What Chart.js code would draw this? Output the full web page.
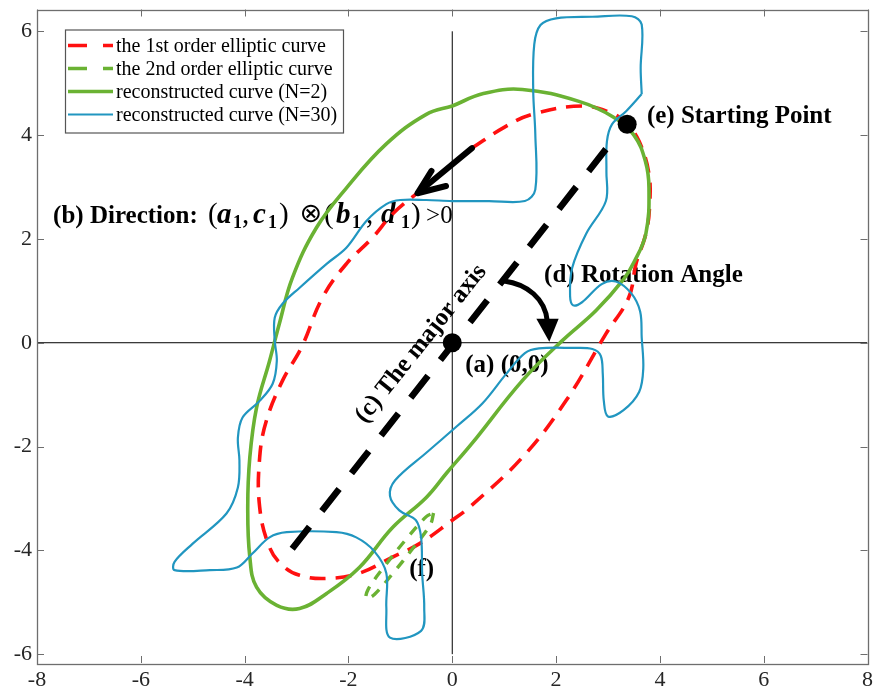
<!DOCTYPE html>
<html><head><meta charset="utf-8">
<script src="https://cdn.jsdelivr.net/npm/chart.js@4"></script>
<style>html,body{margin:0;padding:0;background:#fff;}canvas{display:block;}</style>
</head><body>
<canvas id="c" width="877" height="700" style="width:877px;height:700px"></canvas>
<script>
// ---------- data ----------
const xTicks = [-8, -6, -4, -2, 0, 2, 4, 6, 8];
const yTicks = [-6, -4, -2, 0, 2, 4, 6];
const seriesNames = ['the 1st order elliptic curve', 'the 2nd order elliptic curve', 'reconstructed curve (N=2)', 'reconstructed curve (N=30)'];

const ellipse1st = [
  [0.38,3.75],[1.0,4.15],[1.54,4.4],[2.5,4.56],[3.08,4.42],[3.37,4.21],[3.6,3.88],[3.79,3.25],[3.8,2.6],[3.73,2.1],
  [3.54,1.52],[3.4,0.87],[2.96,0.17],[2.19,-1.12],[1.35,-2.21],[0.33,-3.17],[0.0,-3.42],[-0.63,-3.87],[-1.15,-4.13],
  [-1.79,-4.44],[-2.42,-4.54],[-2.94,-4.48],[-3.27,-4.29],[-3.52,-3.94],[-3.71,-3.17],[-3.71,-2.21],[-3.58,-1.5],
  [-3.27,-0.73],[-2.9,-0.08],[-2.5,0.87],[-2.04,1.52],[-1.54,2.02],[-1.15,2.48],[-0.69,2.87],[-0.15,3.3],[0.38,3.75]
];
const ellipse2nd = [
  [-0.36,-3.28],[-0.42,-3.5],[-0.75,-3.95],[-1.15,-4.45],[-1.5,-4.85],[-1.66,-4.93],[-1.62,-4.75],
  [-1.3,-4.3],[-0.9,-3.8],[-0.5,-3.35],[-0.36,-3.28]
];
const reconN2 = [
  [0,4.56],[0.6,4.8],[1.35,4.88],[2.44,4.65],[3.1,4.35],[3.5,4.0],[3.72,3.5],[3.79,2.98],[3.73,2.1],[3.5,1.55],
  [3.3,1.22],[2.77,0.62],[2.12,0.04],[1.35,-0.73],[0.38,-1.94],[-0.1,-2.5],[-0.5,-2.98],[-1.15,-3.56],[-1.79,-4.33],
  [-2.42,-4.83],[-2.94,-5.12],[-3.38,-5.06],[-3.77,-4.71],[-3.9,-4.13],[-3.94,-3.17],[-3.9,-2.21],[-3.77,-1.25],
  [-3.52,-0.35],[-3.33,0.37],[-3.08,1.25],[-2.62,2.21],[-2.04,2.98],[-1.27,3.83],[-0.5,4.40],[0,4.56]
];
const reconN30 = [
  [3.65,4.79],[3.35,4.46],[3.08,4.21],[2.98,3.88],[2.97,3.3],[2.96,2.73],[2.58,2.10],[2.31,1.44],[2.27,0.9],[2.33,0.72],
  [2.5,0.78],[2.88,1.13],[3.15,1.18],[3.45,0.95],[3.62,0.6],[3.65,0.10],[3.68,-0.5],[3.6,-0.95],[3.3,-1.3],[3.0,-1.42],
  [2.92,-1.12],[2.9,-0.6],[2.86,-0.25],[2.7,-0.12],[2.31,-0.10],[1.67,-0.11],[1.4,-0.2],[1.04,-0.60],[0.58,-1.17],
  [0.1,-1.6],[-0.5,-2.12],[-1.1,-2.65],[-1.2,-2.95],[-1.02,-3.23],[-0.7,-3.42],[-0.6,-3.75],[-0.58,-4.44],[-0.54,-5.10],
  [-0.6,-5.55],[-1.2,-5.68],[-1.27,-5.10],[-1.27,-4.44],[-1.5,-4.02],[-1.85,-3.75],[-2.23,-3.65],[-3.19,-3.65],
  [-3.52,-3.75],[-3.85,-4.06],[-4.15,-4.33],[-4.67,-4.38],[-5.35,-4.38],[-5.35,-4.22],[-5.0,-3.87],[-4.35,-3.29],
  [-4.13,-2.79],[-4.10,-2.27],[-4.13,-1.83],[-4.04,-1.44],[-3.71,-1.12],[-3.46,-0.79],[-3.38,-0.35],[-3.42,0.04],
  [-3.42,0.48],[-3.27,0.75],[-2.94,1.06],[-2.42,1.52],[-2.04,1.83],[-1.65,2.35],[-1.27,2.67],[-1.0,2.75],[-0.5,2.75],
  [0,2.73],[0.71,2.73],[1.4,2.73],[1.6,2.95],[1.60,4.02],[1.56,4.85],[1.58,5.75],[1.7,6.12],[2.0,6.25],[2.7,6.28],
  [3.46,6.29],[3.65,6.13],[3.63,5.29],[3.65,4.79]
];
const majorAxis = [[2.96,3.73],[-3.29,-4.23]];
const zeroLineH = [[-8,0],[8,0]];
const zeroLineV = [[0,-6],[0,6]];
const markedPoints = [[0,0],[3.37,4.21]];

// ---------- helpers ----------
const SERIF = "'Liberation Serif','Times New Roman',serif";
const toXY = a => a.map(p => ({x:p[0], y:p[1]}));
const RED = '#ff1010', GREEN = '#6ab233', BLUE = '#2196c0', AX = '#6e6e6e';

const datasets = [
  {label:'points', data:toXY(markedPoints), showLine:false, pointRadius:9.5, pointBackgroundColor:'#000', pointBorderWidth:0, order:0},
  {label:'major', data:toXY(majorAxis), showLine:true, borderColor:'#000', borderWidth:6.5, borderDash:[28,20], pointRadius:0, order:1, borderCapStyle:'butt'},
  {label:seriesNames[3], data:toXY(reconN30), showLine:true, borderColor:BLUE, borderWidth:2.2, pointRadius:0, tension:0.35, order:2},
  {label:seriesNames[2], data:toXY(reconN2), showLine:true, borderColor:GREEN, borderWidth:3.6, pointRadius:0, tension:0.4, order:3},
  {label:seriesNames[1], data:toXY(ellipse2nd), showLine:true, borderColor:GREEN, borderWidth:3.4, borderDash:[10,9], pointRadius:0, tension:0.35, order:4},
  {label:seriesNames[0], data:toXY(ellipse1st), showLine:true, borderColor:RED, borderWidth:3.6, borderDash:[16,10], pointRadius:0, tension:0.4, order:5},
  {label:'zh', data:toXY(zeroLineH), showLine:true, borderColor:'#000', borderWidth:1, pointRadius:0, order:6},
  {label:'zv', data:toXY(zeroLineV), showLine:true, borderColor:'#000', borderWidth:1, pointRadius:0, order:6}
];

function P(chart, x, y){ return [chart.scales.x.getPixelForValue(x), chart.scales.y.getPixelForValue(y)]; }

const frame = {
  id:'frame',
  afterDraw(chart){
    const {ctx, chartArea:a} = chart;
    ctx.save();
    ctx.strokeStyle = AX; ctx.lineWidth = 1;
    ctx.beginPath();
    xTicks.forEach(v => { const x = Math.round(chart.scales.x.getPixelForValue(v)) + 0.5;
      ctx.moveTo(x, a.bottom); ctx.lineTo(x, a.bottom - 7); ctx.moveTo(x, a.top); ctx.lineTo(x, a.top + 7); });
    yTicks.forEach(v => { const y = Math.round(chart.scales.y.getPixelForValue(v)) + 0.5;
      ctx.moveTo(a.left, y); ctx.lineTo(a.left + 7, y); ctx.moveTo(a.right, y); ctx.lineTo(a.right - 7, y); });
    ctx.stroke();
    ctx.lineWidth = 1.3;
    ctx.strokeRect(Math.round(a.left)+0.5, Math.round(a.top)+0.5, Math.round(a.right-a.left), Math.round(a.bottom-a.top));
    ctx.restore();
  }
};

const texts = {
  id:'texts',
  beforeDatasetsDraw(chart){
    const ctx = chart.ctx;
    ctx.save();
    ctx.fillStyle = '#000';
    ctx.textBaseline = 'middle';
    ctx.font = 'bold 25px ' + SERIF;
    const simple = [['(e) Starting Point', 3.75, 4.35], ['(d) Rotation Angle', 1.77, 1.29], ['(a) (0,0)', 0.25, -0.44], ['(f)', -0.83, -4.36]];
    simple.forEach(t => { const [x,y] = P(chart, t[1], t[2]); ctx.fillText(t[0], x, y); });
    // rotated label
    const [cx, cy] = P(chart, -0.6, -0.02);
    ctx.save(); ctx.translate(cx, cy); ctx.rotate(-51.4*Math.PI/180);
    ctx.textAlign = 'center'; ctx.fillText('(c) The major axis', 0, 0); ctx.restore();
    // direction formula: [text, font, x offset from start, baseline shift]
    ctx.textBaseline = 'alphabetic';
    const [x0, y0] = P(chart, -7.69, 2.31);
    const R = '29px ' + SERIF, BI = 'italic bold 29px ' + SERIF, SUB = 'bold 18px ' + SERIF;
    const runs = [['(b) Direction:', 'bold 25px ' + SERIF, 0, 0],
      ['(', R, 155, 0], ['a', BI, 164, 0], ['1', SUB, 180, 5], [',', R, 189, 0], ['c', BI, 200, 0], ['1', SUB, 215, 5], [')', R, 226, 0],
      ['(', R, 271, 0], ['b', BI, 283, 0], ['1', SUB, 299, 5], [',', R, 313, 0], ['d', BI, 328, 0], ['1', SUB, 348, 5], [')', R, 358, 0],
      ['>0', '25px ' + SERIF, 373, 0]];
    runs.forEach(r => { ctx.font = r[1]; ctx.fillText(r[0], x0 + r[2], y0 + r[3]); });
    // circled times operator
    ctx.font = '27px "DejaVu Sans"'; ctx.textBaseline = 'middle'; ctx.textAlign = 'center';
    ctx.fillText('\u2297', x0 + 258, y0 - 8);
    ctx.restore();
  }
};

const arrows = {
  id:'arrows',
  afterDatasetsDraw(chart){
    const ctx = chart.ctx;
    ctx.save();
    ctx.strokeStyle = '#000'; ctx.fillStyle = '#000'; ctx.lineCap = 'round'; ctx.lineJoin = 'round';
    // (b) direction arrow
    ctx.lineWidth = 6;
    let a = P(chart, 0.38, 3.75), b = P(chart, -0.65, 2.9);
    ctx.beginPath(); ctx.moveTo(a[0], a[1]); ctx.lineTo(b[0], b[1]); ctx.stroke();
    const tip = P(chart, -0.67, 2.88), w1 = P(chart, -0.40, 3.31), w2 = P(chart, -0.12, 3.02);
    ctx.beginPath(); ctx.moveTo(w1[0], w1[1]); ctx.lineTo(tip[0], tip[1]); ctx.lineTo(w2[0], w2[1]); ctx.stroke();
    // (d) rotation arrow
    ctx.lineWidth = 5; ctx.lineCap = 'butt';
    const s = P(chart, 1.0, 1.19), c1 = P(chart, 1.44, 1.13), c2 = P(chart, 1.79, 0.85), e = P(chart, 1.83, 0.42);
    ctx.beginPath(); ctx.moveTo(s[0], s[1]); ctx.bezierCurveTo(c1[0], c1[1], c2[0], c2[1], e[0], e[1]); ctx.stroke();
    const h1 = P(chart, 1.62, 0.46), h2 = P(chart, 2.05, 0.46), ht = P(chart, 1.87, 0.02);
    ctx.beginPath(); ctx.moveTo(h1[0], h1[1]); ctx.lineTo(h2[0], h2[1]); ctx.lineTo(ht[0], ht[1]); ctx.closePath(); ctx.fill();
    ctx.restore();
  }
};

const legendBox = {
  id:'legendBox',
  afterDatasetsDraw(chart){
    const ctx = chart.ctx, a = chart.chartArea;
    const x0 = a.left + 28, y0 = a.top + 20, w = 278, h = 103;
    ctx.save();
    ctx.fillStyle = '#fff'; ctx.fillRect(x0, y0, w, h);
    ctx.strokeStyle = '#555'; ctx.lineWidth = 1.2; ctx.strokeRect(x0 + 0.5, y0 + 0.5, w, h);
    const styles = [[RED, [19,16]], [GREEN, [19,16]], [GREEN, []], [BLUE, []]];
    const widths = [3.6, 3.4, 3.6, 2.2];
    ctx.font = '20px ' + SERIF; ctx.textBaseline = 'middle'; ctx.fillStyle = '#000';
    seriesNames.forEach((name, i) => {
      const y = y0 + 16 + i * 23;
      ctx.strokeStyle = styles[i][0]; ctx.lineWidth = widths[i]; ctx.setLineDash(styles[i][1]);
      ctx.beginPath(); ctx.moveTo(x0 + 3, y); ctx.lineTo(x0 + 48, y); ctx.stroke();
      ctx.setLineDash([]);
      ctx.fillText(name, x0 + 51, y + 1);
    });
    ctx.restore();
  }
};

const tickFont = {family:SERIF, size:22};
new Chart(document.getElementById('c'), {
  type:'scatter',
  data:{datasets},
  options:{
    responsive:false, animation:false, devicePixelRatio:1,
    layout:{padding:{top:7, right:8, left:0, bottom:0}},
    plugins:{legend:{display:false}, tooltip:{enabled:false}},
    scales:{
      x:{type:'linear', min:-8, max:8,
        afterBuildTicks:s => { s.ticks = xTicks.map(v => ({value:v})); },
        afterFit:s => { s.height = 37; s.paddingLeft = 0; s.paddingRight = 0; },
        ticks:{font:tickFont, color:'#262626', padding:4, maxRotation:0, autoSkip:false, callback:v => String(v)},
        grid:{display:false, drawTicks:false}, border:{display:false}},
      y:{type:'linear', min:-6.17, max:6.42,
        afterBuildTicks:s => { s.ticks = yTicks.map(v => ({value:v})); },
        afterFit:s => { s.width = 37; s.paddingTop = 0; s.paddingBottom = 0; },
        ticks:{font:tickFont, color:'#262626', padding:5, autoSkip:false, callback:v => String(v)},
        grid:{display:false, drawTicks:false}, border:{display:false}}
    }
  },
  plugins:[texts, arrows, legendBox, frame]
});
</script>
</body></html>
